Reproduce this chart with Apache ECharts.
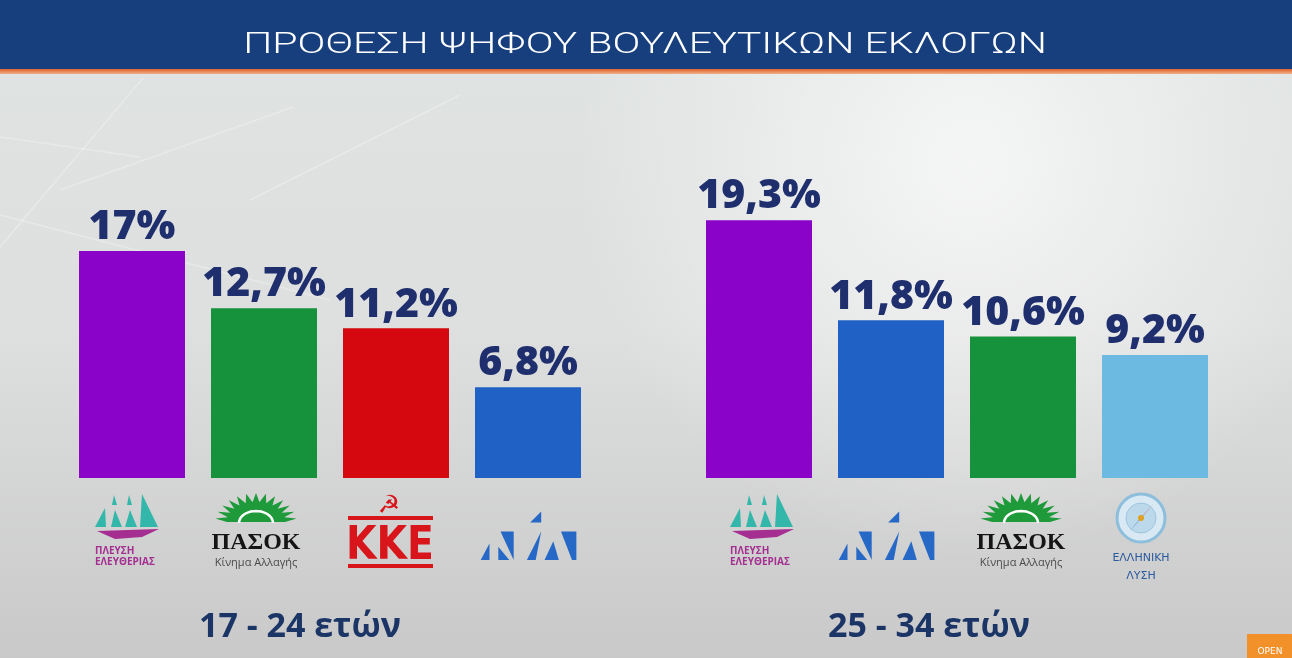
<!DOCTYPE html>
<html><head><meta charset="utf-8">
<script src="https://cdn.jsdelivr.net/npm/echarts@6/dist/echarts.min.js"></script>
<style>html,body{margin:0;padding:0;background:#ddd}#c{width:1292px;height:658px}</style>
</head><body><div id="c"></div>
<script>
// ---- data ----
const titleText = 'ΠΡΟΘΕΣΗ ΨΗΦΟΥ ΒΟΥΛΕΥΤΙΚΩΝ ΕΚΛΟΓΩΝ';
const groupLabels = ['17 - 24 ετών', '25 - 34 ετών'];
const parties1 = ['Πλεύση Ελευθερίας', 'ΠΑΣΟΚ', 'ΚΚΕ', 'ΝΔ'];
const values1 = [17, 12.7, 11.2, 6.8];
const parties2 = ['Πλεύση Ελευθερίας', 'ΝΔ', 'ΠΑΣΟΚ', 'Ελληνική Λύση'];
const values2 = [19.3, 11.8, 10.6, 9.2];
const partyColors = {
  'Πλεύση Ελευθερίας': '#8a03c9',
  'ΠΑΣΟΚ': '#17923c',
  'ΚΚΕ': '#d4080e',
  'ΝΔ': '#2061c6',
  'Ελληνική Λύση': '#6cb9e2'
};

const chart = echarts.init(document.getElementById('c'));
const NAVY = '#1f2f6d';
const fmt = v => String(v).replace('.', ',') + '%';

function seriesFor(idx, parties, values) {
  return {
    type: 'bar', xAxisIndex: idx, yAxisIndex: idx, barWidth: 106,
    data: values.map((v, i) => ({ value: v, itemStyle: { color: partyColors[parties[i]] } })),
    label: {
      show: true, position: 'top', distance: 3,
      formatter: p => fmt(p.value),
      fontFamily: 'Open Sans', fontWeight: 800, fontSize: 41, color: NAVY
    },
    silent: true
  };
}

// ---- logo helpers (decoration) ----
function poly(points, fill) { return { type: 'polygon', shape: { points }, style: { fill } }; }

function pleysi(x, y) {
  const teal = '#33b7aa', purp = '#a42f90';
  return { type: 'group', x, y, children: [
    poly([[-33,0],[-23,-19],[-22,0]], teal),
    poly([[-16,-22],[-14,-32],[-11,-22]], teal),
    poly([[-17,0],[-13,-17],[-6,0]], teal),
    poly([[-1,-22],[1,-32],[4,-22]], teal),
    poly([[-3,0],[2,-17],[9,0]], teal),
    poly([[12,0],[14,-33],[30,0]], teal),
    poly([[-31,4],[31,2],[14,10],[-13,12]], purp),
    { type: 'text', x: -33, y: 24, style: { text: 'ΠΛΕΥΣΗ', fill: purp, font: 'bold 10px "Open Sans"', textVerticalAlign: 'middle' } },
    { type: 'text', x: -33, y: 35, style: { text: 'ΕΛΕΥΘΕΡΙΑΣ', fill: purp, font: 'bold 10px "Open Sans"', textVerticalAlign: 'middle' } }
  ]};
}

function pasok(x, y) {
  const green = '#1f9a3a';
  const pts = [];
  const N = 13, rxO = 41, ryO = 29, rxI = 29, ryI = 20;
  for (let i = 0; i <= 2 * N; i++) {
    const a = Math.PI + Math.PI * i / (2 * N);
    const out = i % 2 === 1;
    pts.push([Math.cos(a) * (out ? rxO : rxI), Math.sin(a) * (out ? ryO : ryI)]);
  }
  const arc = [];
  for (let i = 0; i <= 20; i++) {
    const a = Math.PI + Math.PI * i / 20;
    arc.push([Math.cos(a) * 17, Math.sin(a) * 12 + 1]);
  }
  return { type: 'group', x, y, children: [
    poly(pts, green),
    { type: 'polyline', shape: { points: arc }, style: { stroke: '#fff', lineWidth: 2.5, fill: null } },
    { type: 'text', x: 0, y: 21, style: { text: 'ΠΑΣΟΚ', fill: '#151515', font: 'bold 24px "Liberation Serif"', textAlign: 'center', textVerticalAlign: 'middle' } },
    { type: 'text', x: 0, y: 41, style: { text: 'Κίνημα Αλλαγής', fill: '#4a4a4a', font: '11px "Open Sans"', textAlign: 'center', textVerticalAlign: 'middle' } }
  ]};
}

function kke(x, y) {
  const red = '#d8151b';
  return { type: 'group', x, y, children: [
    { type: 'text', x: -1, y: -37, style: { text: '☭', fill: red, font: 'bold 25px "DejaVu Sans"', textAlign: 'center', textVerticalAlign: 'middle' } },
    { type: 'rect', shape: { x: -42, y: -27, width: 85, height: 4 }, style: { fill: red } },
    { type: 'text', x: 0, y: 4, scaleX: 0.95, style: { text: 'ΚΚΕ', fill: red, font: 'bold 46px "DejaVu Sans Condensed"', textAlign: 'center', textVerticalAlign: 'middle' } },
    { type: 'rect', shape: { x: -42, y: 21, width: 85, height: 4 }, style: { fill: red } }
  ]};
}

function nd(x, y) {
  const blue = '#2668c6';
  return { type: 'group', x, y, scaleX: 1.1, scaleY: 1.1, children: [
    poly([[-43,0],[-35,-15],[-35,0]], blue),
    poly([[-25,-26],[-13,-26],[-13,0]], blue),
    poly([[-27,-12],[-17,0],[-27,0]], blue),
    poly([[-1,0],[12,-26],[7,0]], blue),
    poly([[2,-34],[12,-44],[12,-34]], blue),
    poly([[15,0],[23,-17],[28,0]], blue),
    poly([[30,-26],[44,-26],[44,0],[40,0]], blue)
  ]};
}

function ellLysi(x, y) {
  const c = '#2a5a9e';
  return { type: 'group', x, y, children: [
    { type: 'circle', shape: { cx: 0, cy: 0, r: 24 }, style: { fill: '#d8e9f3', stroke: '#8dbfdd', lineWidth: 3 } },
    { type: 'circle', shape: { cx: 0, cy: 0, r: 15 }, style: { fill: '#bcd9ec', stroke: '#9cc6e0', lineWidth: 1 } },
    poly([[2,-2],[13,-15],[-2,2]], '#d0312d'),
    poly([[-2,2],[-13,15],[2,-2]], '#2c5ea8'),
    { type: 'circle', shape: { cx: 0, cy: 0, r: 3 }, style: { fill: '#e0a020' } },
    { type: 'text', x: 0, y: 40, style: { text: 'ΕΛΛΗΝΙΚΗ', fill: c, font: '11px "DejaVu Sans"', textAlign: 'center', textVerticalAlign: 'middle' } },
    { type: 'text', x: 0, y: 58, style: { text: 'ΛΥΣΗ', fill: c, font: '11px "DejaVu Sans"', textAlign: 'center', textVerticalAlign: 'middle' } }
  ]};
}

const streak = (x1, y1, x2, y2) => ({ type: 'line', z: -9, shape: { x1, y1, x2, y2 }, style: { stroke: 'rgba(255,255,255,0.28)', lineWidth: 1.5 } });

const option = {
  animation: false,
  grid: [
    { left: 66, top: 144, width: 528, bottom: 180 },
    { left: 693, top: 144, width: 528, bottom: 180 }
  ],
  xAxis: [
    { gridIndex: 0, type: 'category', data: parties1, show: false },
    { gridIndex: 1, type: 'category', data: parties2, show: false }
  ],
  yAxis: [
    { gridIndex: 0, type: 'value', min: 0, max: 25, show: false },
    { gridIndex: 1, type: 'value', min: 0, max: 25, show: false }
  ],
  series: [seriesFor(0, parties1, values1), seriesFor(1, parties2, values2)],
  graphic: [
    { type: 'rect', z: -10, shape: { x: 0, y: 0, width: 1292, height: 658 },
      style: { fill: new echarts.graphic.LinearGradient(0, 0, 0, 1, [
        { offset: 0, color: '#e0e4e3' }, { offset: 0.5, color: '#dedfdf' }, { offset: 1, color: '#c9c9c9' }]) } },
    { type: 'rect', z: -10, shape: { x: 0, y: 0, width: 1292, height: 658 },
      style: { fill: new echarts.graphic.RadialGradient(0.75, 0.25, 0.6, [
        { offset: 0, color: 'rgba(250,250,250,0.8)' }, { offset: 1, color: 'rgba(250,250,250,0)' }]) } },
    streak(143, 78, 0, 247),
    streak(0, 137, 140, 157),
    streak(293, 107, 60, 190),
    streak(0, 215, 330, 300),
    streak(460, 95, 250, 200),
    { type: 'rect', z: 10, shape: { x: 0, y: 0, width: 1292, height: 69 }, style: { fill: '#173f7e' } },
    { type: 'rect', z: 10, shape: { x: 0, y: 69, width: 1292, height: 5 },
      style: { fill: new echarts.graphic.LinearGradient(0, 0, 0, 1, [
        { offset: 0, color: '#e0602a' }, { offset: 1, color: '#f0b08a' }]) } },
    { type: 'text', z: 11, x: 645, y: 45, scaleX: 1.37,
      style: { text: titleText, fill: '#ffffff', font: '300 30px Roboto', textAlign: 'center', textVerticalAlign: 'middle' } },
    pleysi(128, 527), pasok(256, 522), kke(390, 543), nd(528, 560),
    pleysi(763, 527), nd(886, 560), pasok(1021, 522), ellLysi(1141, 518),
    { type: 'text', x: 300, y: 627, style: { text: groupLabels[0], fill: '#1b3566', font: 'bold 34px "Open Sans"', textAlign: 'center', textVerticalAlign: 'middle' } },
    { type: 'text', x: 929, y: 627, style: { text: groupLabels[1], fill: '#1b3566', font: 'bold 34px "Open Sans"', textAlign: 'center', textVerticalAlign: 'middle' } },
    { type: 'rect', shape: { x: 1247, y: 634, width: 45, height: 24 }, style: { fill: '#f2912a' } },
    { type: 'text', x: 1270, y: 652, style: { text: 'OPEN', fill: '#fff', font: '9px "DejaVu Sans"', textAlign: 'center', textVerticalAlign: 'middle' } }
  ]
};
chart.setOption(option);
</script></body></html>
